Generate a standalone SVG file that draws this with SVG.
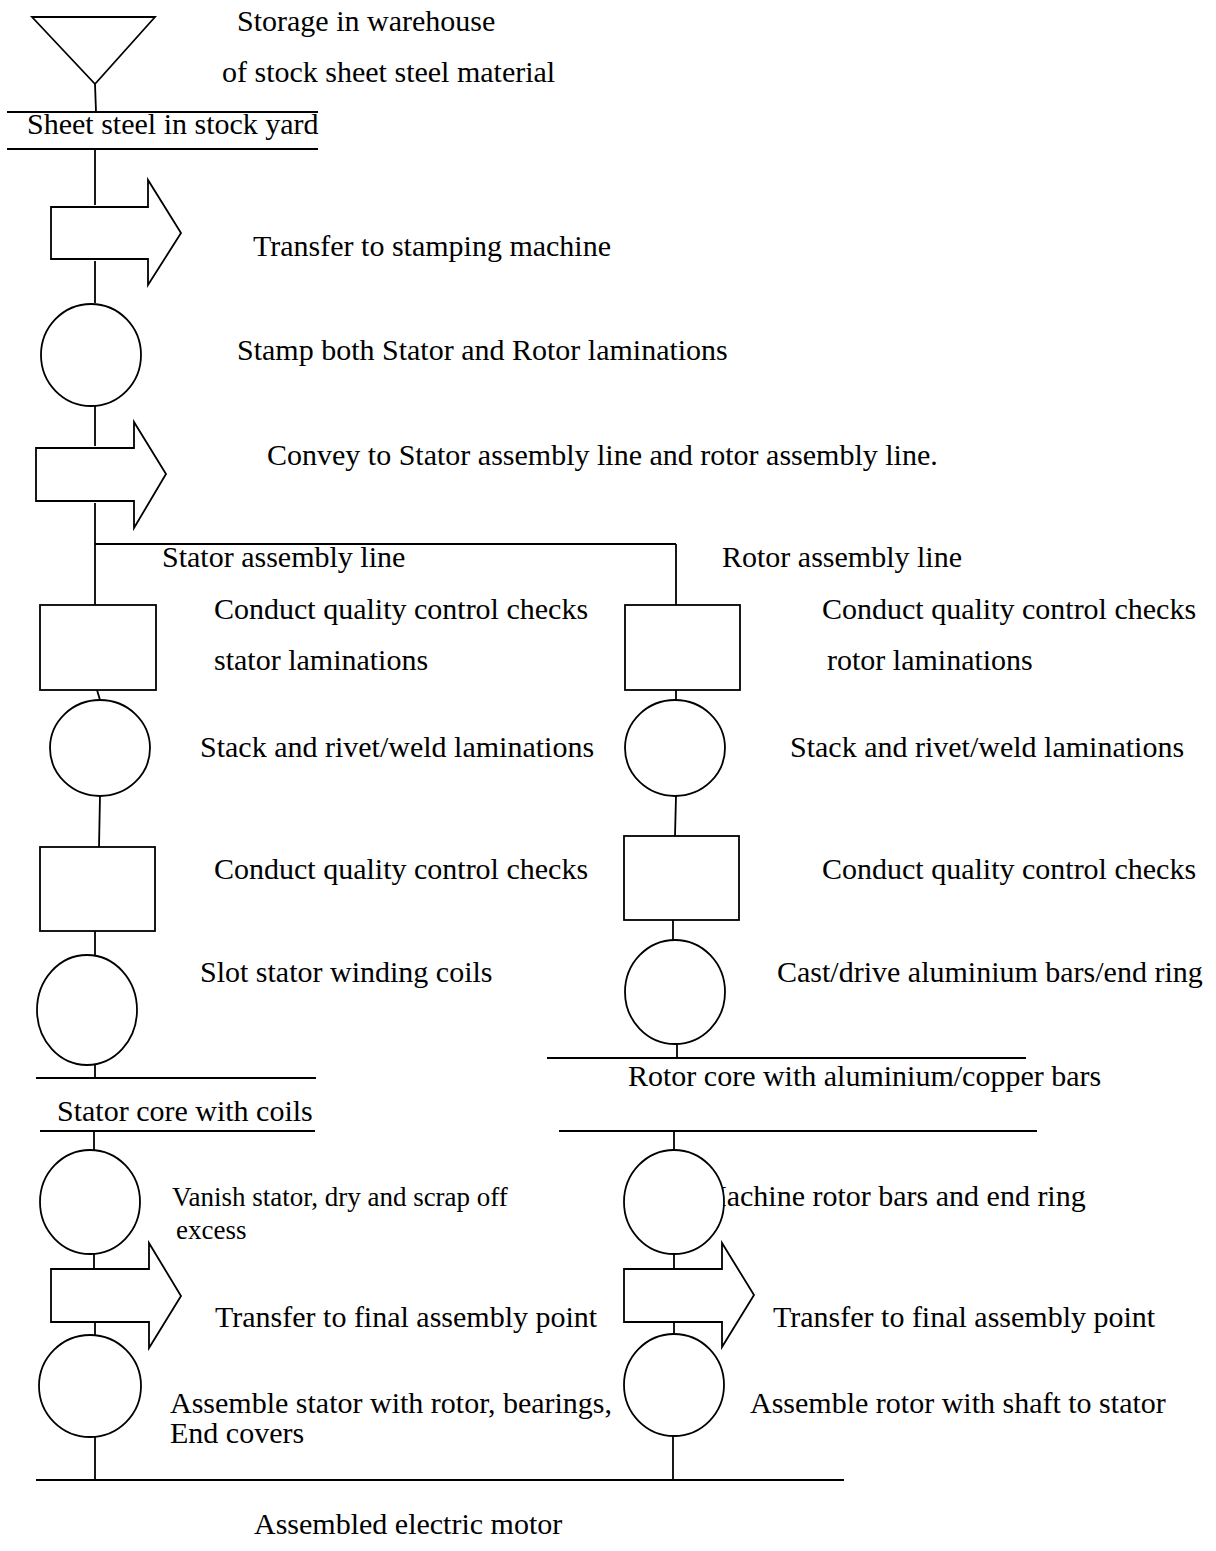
<svg xmlns="http://www.w3.org/2000/svg" width="1216" height="1551" viewBox="0 0 1216 1551">
  <style>
    .ln { stroke: #000; stroke-width: 1.8; fill: none; }
    .sh { stroke: #000; stroke-width: 1.8; fill: #fff; }
    .tx { font-family: "Liberation Serif", "Times New Roman", serif; font-size: 30px; fill: #000; }
    .sm { font-size: 27px; }
  </style>
  <rect width="1216" height="1551" fill="#fff"/>

  <!-- flow connectors and storage bars -->
  <g id="connectors">
    <line class="ln" x1="95" y1="84" x2="96" y2="112"/>
    <line class="ln" x1="7" y1="112" x2="318" y2="112"/>
    <line class="ln" x1="7" y1="149" x2="318" y2="149"/>
    <line class="ln" x1="95" y1="149" x2="95" y2="205"/>
    <line class="ln" x1="95" y1="261" x2="95" y2="303"/>
    <line class="ln" x1="95" y1="406" x2="95" y2="446"/>
    <line class="ln" x1="95" y1="503" x2="95" y2="605"/>
    <line class="ln" x1="95" y1="544" x2="676" y2="544"/>
    <line class="ln" x1="676" y1="544" x2="676" y2="605"/>
    <!-- stator line -->
    <line class="ln" x1="97" y1="690" x2="100" y2="700"/>
    <line class="ln" x1="100" y1="796" x2="99" y2="847"/>
    <line class="ln" x1="95" y1="931" x2="95" y2="955"/>
    <line class="ln" x1="95" y1="1065" x2="95" y2="1078"/>
    <line class="ln" x1="36" y1="1078" x2="316" y2="1078"/>
    <line class="ln" x1="40" y1="1131" x2="315" y2="1131"/>
    <line class="ln" x1="94" y1="1131" x2="94" y2="1151"/>
    <line class="ln" x1="94" y1="1254" x2="94" y2="1269"/>
    <line class="ln" x1="95" y1="1322" x2="95" y2="1335"/>
    <line class="ln" x1="95" y1="1436" x2="95" y2="1480"/>
    <!-- rotor line -->
    <line class="ln" x1="676" y1="690" x2="676" y2="700"/>
    <line class="ln" x1="676" y1="796" x2="675" y2="836"/>
    <line class="ln" x1="673" y1="920" x2="673" y2="940"/>
    <line class="ln" x1="677" y1="1044" x2="677" y2="1058"/>
    <line class="ln" x1="547" y1="1058" x2="1026" y2="1058"/>
    <line class="ln" x1="559" y1="1131" x2="1037" y2="1131"/>
    <line class="ln" x1="674" y1="1131" x2="674" y2="1151"/>
    <line class="ln" x1="674" y1="1254" x2="674" y2="1269"/>
    <line class="ln" x1="674" y1="1322" x2="674" y2="1333"/>
    <line class="ln" x1="673" y1="1436" x2="673" y2="1480"/>
    <!-- final assembly bar -->
    <line class="ln" x1="36" y1="1480" x2="844" y2="1480"/>
  </g>

  <g id="storage-warehouse">
    <polygon class="sh" points="32,17 155,17 95,84"/>
    <text class="tx" x="237" y="31">Storage in warehouse</text>
    <text class="tx" x="222" y="82">of stock sheet steel material</text>
  </g>

  <g id="stock-yard">
    <text class="tx" x="27" y="134">Sheet steel in stock yard</text>
  </g>

  <g id="transfer-stamping">
    <path class="sh" d="M51,207 H148 V180 L181,233 L148,285 V259 H51 Z"/>
    <text class="tx" x="253" y="256">Transfer to stamping machine</text>
  </g>

  <g id="stamp">
    <ellipse class="sh" cx="91" cy="355" rx="50" ry="51"/>
    <text class="tx" x="237" y="360">Stamp both Stator and Rotor laminations</text>
  </g>

  <g id="convey">
    <path class="sh" d="M36,448 H134 V422 L166,474 L134,528 V501 H36 Z"/>
    <text class="tx" x="267" y="465">Convey to Stator assembly line and rotor assembly line.</text>
  </g>

  <g id="line-labels">
    <text class="tx" x="162" y="567">Stator assembly line</text>
    <text class="tx" x="722" y="567">Rotor assembly line</text>
  </g>

  <!-- stator assembly line -->
  <g id="stator-qc1">
    <rect class="sh" x="40" y="605" width="116" height="85"/>
    <text class="tx" x="214" y="619">Conduct quality control checks</text>
    <text class="tx" x="214" y="670">stator laminations</text>
  </g>

  <g id="stator-stack">
    <ellipse class="sh" cx="100" cy="748" rx="50" ry="48"/>
    <text class="tx" x="200" y="757">Stack and rivet/weld laminations</text>
  </g>

  <g id="stator-qc2">
    <rect class="sh" x="40" y="847" width="115" height="84"/>
    <text class="tx" x="214" y="879">Conduct quality control checks</text>
  </g>

  <g id="stator-winding">
    <ellipse class="sh" cx="87" cy="1010" rx="50" ry="55"/>
    <text class="tx" x="200" y="982">Slot stator winding coils</text>
  </g>

  <g id="stator-core">
    <text class="tx" x="57" y="1121">Stator core with coils</text>
  </g>

  <g id="stator-varnish">
    <ellipse class="sh" cx="90" cy="1202" rx="50" ry="52"/>
    <text class="tx sm" x="172" y="1206">Vanish stator, dry and scrap off</text>
    <text class="tx sm" x="176" y="1239"> excess</text>
  </g>

  <g id="stator-transfer">
    <path class="sh" d="M51,1269 H149 V1243 L181,1296 L149,1348 V1322 H51 Z"/>
    <text class="tx" x="215" y="1327">Transfer to final assembly point</text>
  </g>

  <g id="stator-assemble">
    <ellipse class="sh" cx="90" cy="1386" rx="51" ry="51"/>
    <text class="tx" x="170" y="1413">Assemble stator with rotor, bearings,</text>
    <text class="tx" x="170" y="1443">End covers</text>
  </g>

  <!-- rotor assembly line -->
  <g id="rotor-qc1">
    <rect class="sh" x="625" y="605" width="115" height="85"/>
    <text class="tx" x="822" y="619">Conduct quality control checks</text>
    <text class="tx" x="827" y="670">rotor laminations</text>
  </g>

  <g id="rotor-stack">
    <ellipse class="sh" cx="675" cy="748" rx="50" ry="48"/>
    <text class="tx" x="790" y="757">Stack and rivet/weld laminations</text>
  </g>

  <g id="rotor-qc2">
    <rect class="sh" x="624" y="836" width="115" height="84"/>
    <text class="tx" x="822" y="879">Conduct quality control checks</text>
  </g>

  <g id="rotor-cast">
    <ellipse class="sh" cx="675" cy="992" rx="50" ry="52"/>
    <text class="tx" x="777" y="982">Cast/drive aluminium bars/end ring</text>
  </g>

  <g id="rotor-core">
    <text class="tx" x="628" y="1086">Rotor core with aluminium/copper bars</text>
  </g>

  <g id="rotor-machine">
    <text class="tx" x="700" y="1206">Machine rotor bars and end ring</text>
    <ellipse class="sh" cx="674" cy="1202" rx="50" ry="52"/>
  </g>

  <g id="rotor-transfer">
    <path class="sh" d="M624,1269 H722 V1243 L754,1295 L722,1347 V1322 H624 Z"/>
    <text class="tx" x="773" y="1327">Transfer to final assembly point</text>
  </g>

  <g id="rotor-assemble">
    <ellipse class="sh" cx="674" cy="1385" rx="50" ry="51"/>
    <text class="tx" x="750" y="1413">Assemble rotor with shaft to stator</text>
  </g>

  <g id="motor">
    <text class="tx" x="254" y="1534">Assembled electric motor</text>
  </g>
</svg>
